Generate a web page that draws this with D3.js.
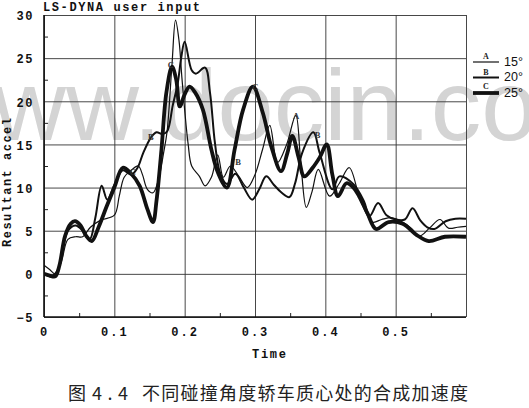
<!DOCTYPE html>
<html>
<head>
<meta charset="utf-8">
<script src="https://cdnjs.cloudflare.com/ajax/libs/d3/7.8.5/d3.min.js"></script>
<style>
  html, body { margin: 0; padding: 0; background: #fff; }
  svg { display: block; }
  .mono { font-family: "Liberation Mono", "Courier New", monospace; font-weight: bold; fill: #111; }
</style>
</head>
<body>
<div id="chart"></div>
<script>
// time / resultant accel, one pair of arrays per curve
var timeA = [0, 0.008, 0.016, 0.025, 0.034, 0.045, 0.055, 0.066, 0.08, 0.1, 0.107, 0.114, 0.124, 0.134, 0.14, 0.147,
  0.155, 0.163, 0.17, 0.175, 0.182, 0.187, 0.192, 0.196, 0.2, 0.205, 0.21, 0.221, 0.229, 0.238, 0.247, 0.255,
  0.265, 0.277, 0.289, 0.3, 0.311, 0.321, 0.332, 0.345, 0.358, 0.365, 0.373, 0.381, 0.39, 0.406, 0.42, 0.434,
  0.45, 0.467, 0.48, 0.495, 0.51, 0.522, 0.534, 0.548, 0.563, 0.575, 0.588, 0.6];
var accelA = [1.0, 0.5, 0, 1.5, 4.0, 4.3, 4.3, 5.4, 6.2, 6.8, 9, 11.2, 12, 12.5, 11.5, 9.8,
  9.4, 11, 14, 16.5, 24.3, 29.4, 27, 22.8, 19, 15, 12.5, 11.3, 10.2, 11.2, 13.8, 11.2,
  12.5, 11.3, 10, 11.5, 14.5, 17.2, 12.9, 15, 18.4, 13, 7.7, 9.5, 12.1, 9, 10.5, 12.3,
  8.5, 6, 6.3, 6.5, 6, 5.3, 4.4, 5.3, 6.3, 5.3, 5.4, 5.5];

var timeB = [0, 0.01, 0.02, 0.027, 0.034, 0.045, 0.055, 0.065, 0.073, 0.082, 0.09, 0.1, 0.112, 0.124, 0.133, 0.141,
  0.152, 0.16, 0.168, 0.175, 0.183, 0.19, 0.195, 0.2, 0.21, 0.216, 0.229, 0.236, 0.243, 0.25, 0.26, 0.272,
  0.284, 0.296, 0.306, 0.316, 0.327, 0.338, 0.349, 0.357, 0.367, 0.383, 0.392, 0.41, 0.42, 0.44, 0.455, 0.463,
  0.475, 0.487, 0.5, 0.513, 0.524, 0.535, 0.545, 0.555, 0.571, 0.585, 0.6];
var accelB = [0, -0.3, 0.5, 3, 5.0, 5.6, 5.0, 4.0, 6.5, 10.2, 8.6, 10.3, 12.0, 11.5, 12.3, 14,
  15.8, 16.4, 16.2, 16.5, 19.5, 22, 25, 26.9, 23.6, 23.2, 23.9, 21, 15.2, 11.8, 10.4, 11.6,
  10, 8.6, 9.8, 11.3, 10.3, 9.4, 8.9, 10.5, 14, 16.4, 14, 9.8, 11.3, 10.4, 8.4, 6.7,
  8.2, 6.8, 6.3, 6.3, 7.6, 6.2, 5.4, 5.2, 6.1, 6.4, 6.4];

var timeC = [0, 0.008, 0.016, 0.022, 0.03, 0.038, 0.044, 0.052, 0.06, 0.068, 0.078, 0.089, 0.1, 0.112, 0.124, 0.136,
  0.147, 0.155, 0.16, 0.167, 0.174, 0.182, 0.188, 0.193, 0.2, 0.207, 0.215, 0.226, 0.238, 0.247, 0.26, 0.271,
  0.283, 0.297, 0.311, 0.323, 0.337, 0.346, 0.353, 0.362, 0.37, 0.382, 0.392, 0.402, 0.41, 0.418, 0.43, 0.44,
  0.448, 0.46, 0.472, 0.49, 0.51, 0.53, 0.547, 0.57, 0.6];
var accelC = [0, -0.2, -0.3, 1, 4.4, 5.8, 6.1, 5.6, 4.4, 3.8, 5.5, 7.8, 10, 12.3, 11.6, 10.2,
  7.5, 6.0, 8.5, 14.4, 21, 24, 22.5, 19.4, 20.8, 21.7, 21, 19, 14.4, 11.8, 10, 14.4,
  19, 21.7, 18.7, 14.8, 11.9, 14, 16, 13.5, 11.3, 12.3, 13.5, 15, 11.5, 9, 10.5, 10,
  9, 7, 5.2, 6.0, 5.8, 4.5, 3.8, 4.3, 4.3];

var xTicks = [0, 0.1, 0.2, 0.3, 0.4, 0.5];
var yTicks = [-5, 0, 5, 10, 15, 20, 25, 30];
var curveNames = ['A', 'B', 'C'];
var angleLabels = ['15°', '20°', '25°'];

// small letters written along the curves: [letter, time, accel]
var markLetters = [['C', 0.176, 23.8], ['C', 0.296, 21.3], ['B', 0.148, 15.5], ['A', 0.354, 18.0],
  ['B', 0.385, 15.7], ['B', 0.272, 12.6], ['C', 0.122, 11.4]];

var width = 529, height = 408;
var plot = { left: 44, top: 15, right: 466, bottom: 317 };
var strokes = [1.2, 2, 3.8];

function zip(ts, vs) {
  return ts.map(function(t, i) { return [t, vs[i]]; });
}

var series = [zip(timeA, accelA), zip(timeB, accelB), zip(timeC, accelC)];

var x = d3.scaleLinear().domain([0, 0.6]).range([plot.left, plot.right]);
var y = d3.scaleLinear().domain([-5, 30]).range([plot.bottom, plot.top]);

var svg = d3.select('#chart').append('svg')
  .attr('width', width)
  .attr('height', height);

// watermark of the scanned page
svg.append('text')
  .attr('x', -80)
  .attr('y', 140)
  .attr('font-family', '"Liberation Sans", Arial, sans-serif')
  .attr('font-size', 101)
  .attr('fill', '#d4d4d4')
  .text('www.docin.com');

// grid
var grid = svg.append('g');
grid.append('g')
  .attr('transform', 'translate(0,' + plot.bottom + ')')
  .call(d3.axisBottom(x).tickValues(xTicks.concat([0.6])).tickSize(-(plot.bottom - plot.top)).tickFormat(''));
grid.append('g')
  .attr('transform', 'translate(' + plot.left + ',0)')
  .call(d3.axisLeft(y).tickValues(yTicks).tickSize(-(plot.right - plot.left)).tickFormat(''));
grid.selectAll('.domain').remove();
grid.selectAll('text').remove();
grid.selectAll('line').attr('stroke', '#333').attr('stroke-width', 0.9);

// minor ticks pointing inward
var xMinor = xTicks.map(function(d) { return d + 0.05; });
var yMinor = yTicks.slice(0, -1).map(function(d) { return d + 2.5; });
var minor = svg.append('g');
minor.append('g')
  .attr('transform', 'translate(0,' + plot.bottom + ')')
  .call(d3.axisBottom(x).tickValues(xMinor).tickSize(-4).tickFormat(''));
minor.append('g')
  .attr('transform', 'translate(' + plot.left + ',0)')
  .call(d3.axisLeft(y).tickValues(yMinor).tickSize(-4).tickFormat(''));
minor.selectAll('.domain').remove();
minor.selectAll('text').remove();
minor.selectAll('line').attr('stroke', '#222').attr('stroke-width', 1);

// heavier left and bottom frame
svg.append('line')
  .attr('x1', plot.left).attr('x2', plot.left)
  .attr('y1', plot.top).attr('y2', plot.bottom)
  .attr('stroke', '#111').attr('stroke-width', 1.6);
svg.append('line')
  .attr('x1', plot.left).attr('x2', plot.right)
  .attr('y1', plot.bottom).attr('y2', plot.bottom)
  .attr('stroke', '#111').attr('stroke-width', 1.6);

// tick labels
var xAxis = svg.append('g')
  .attr('transform', 'translate(0,' + plot.bottom + ')')
  .call(d3.axisBottom(x).tickValues(xTicks).tickSize(0).tickPadding(10)
    .tickFormat(function(d) { return d === 0 ? '0' : d.toFixed(1); }));
xAxis.select('.domain').remove();
xAxis.selectAll('text')
  .attr('class', 'mono')
  .attr('font-size', 12)
  .style('letter-spacing', '2px');

var yAxis = svg.append('g')
  .attr('transform', 'translate(' + plot.left + ',0)')
  .call(d3.axisLeft(y).tickValues(yTicks).tickSize(0).tickPadding(10));
yAxis.select('.domain').remove();
yAxis.selectAll('text')
  .attr('class', 'mono')
  .attr('font-size', 12)
  .attr('dy', '0.4em')
  .style('letter-spacing', '1.5px');

// curves
var line = d3.line()
  .x(function(d) { return x(d[0]); })
  .y(function(d) { return y(d[1]); })
  .curve(d3.curveCatmullRom.alpha(0.5));

svg.append('defs').append('clipPath').attr('id', 'clip')
  .append('rect')
  .attr('x', plot.left).attr('y', plot.top - 4)
  .attr('width', plot.right - plot.left).attr('height', plot.bottom - plot.top + 4);

svg.append('g')
  .attr('clip-path', 'url(#clip)')
  .selectAll('path')
  .data(series)
  .enter().append('path')
  .attr('d', line)
  .attr('fill', 'none')
  .attr('stroke', '#111')
  .attr('stroke-linejoin', 'round')
  .attr('stroke-width', function(d, i) { return strokes[i]; });

svg.append('g')
  .selectAll('text')
  .data(markLetters)
  .enter().append('text')
  .attr('x', function(d) { return x(d[1]); })
  .attr('y', function(d) { return y(d[2]); })
  .attr('font-family', '"Liberation Serif", serif')
  .attr('font-weight', 'bold')
  .attr('font-size', 8.5)
  .attr('fill', '#333')
  .text(function(d) { return d[0]; });

// legend
var legend = svg.append('g').attr('transform', 'translate(473,62)');
var rows = legend.selectAll('g')
  .data(curveNames)
  .enter().append('g')
  .attr('transform', function(d, i) { return 'translate(0,' + (i * 15.5) + ')'; });
rows.append('line')
  .attr('x1', 0).attr('x2', 26)
  .attr('stroke', '#111')
  .attr('stroke-width', function(d, i) { return strokes[i]; });
rows.append('text')
  .attr('x', 13)
  .attr('y', function(d, i) { return -2 - strokes[i] / 2; })
  .attr('text-anchor', 'middle')
  .attr('font-family', '"Liberation Serif", serif')
  .attr('font-weight', 'bold')
  .attr('font-size', 8)
  .attr('fill', '#222')
  .text(function(d) { return d; });
rows.append('text')
  .attr('x', 31)
  .attr('y', 3.5)
  .attr('font-family', '"Liberation Sans", Arial, sans-serif')
  .attr('font-size', 12.5)
  .attr('fill', '#111')
  .text(function(d, i) { return angleLabels[i]; });

// titles
svg.append('text')
  .attr('class', 'mono')
  .attr('x', 43).attr('y', 11)
  .attr('font-size', 12)
  .attr('textLength', 157)
  .attr('lengthAdjust', 'spacing')
  .text('LS-DYNA user input');

svg.append('text')
  .attr('class', 'mono')
  .attr('x', 252).attr('y', 358)
  .attr('font-size', 12)
  .attr('textLength', 34)
  .attr('lengthAdjust', 'spacing')
  .text('Time');

svg.append('text')
  .attr('class', 'mono')
  .attr('transform', 'translate(11,247) rotate(-90)')
  .attr('font-size', 12)
  .attr('textLength', 129)
  .attr('lengthAdjust', 'spacing')
  .text('Resultant accel');

// caption
var caption = svg.append('g')
  .attr('font-family', '"Noto Sans CJK SC", sans-serif')
  .attr('font-size', 18)
  .attr('fill', '#222');
caption.append('text').attr('x', 68).attr('y', 400).text('图');
caption.append('text').attr('x', 92).attr('y', 400)
  .attr('textLength', 36).attr('lengthAdjust', 'spacing').text('4.4');
caption.append('text').attr('x', 142).attr('y', 400)
  .attr('textLength', 326).attr('lengthAdjust', 'spacing').text('不同碰撞角度轿车质心处的合成加速度');
</script>
</body>
</html>
